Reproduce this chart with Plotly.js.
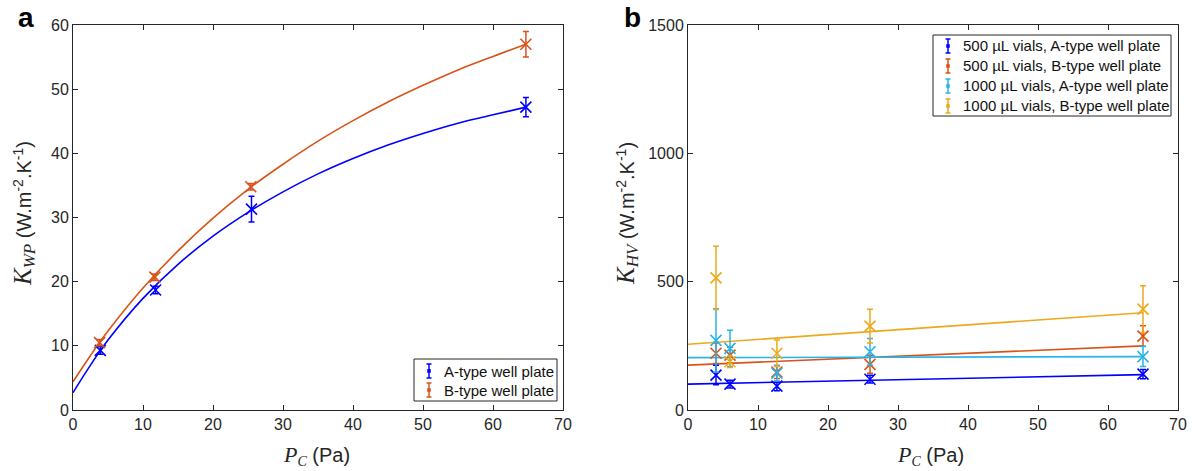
<!DOCTYPE html>
<html><head><meta charset="utf-8">
<script src="https://cdn.plot.ly/plotly-3.0.1.min.js"></script>
<style>html,body{margin:0;padding:0;background:#fff}</style>
</head><body>
<div id="chart" style="width:1196px;height:471px"></div>
<script>
// ---------- Panel a data ----------
const aPressureA = [3.9, 11.8, 25.5, 64.7];
const aKwpA = [9.3, 18.7, 31.3, 47.2];
const aErrA = [0.6, 0.6, 2.0, 1.5];
const aPressureB = [3.8, 11.7, 25.4, 64.7];
const aKwpB = [10.5, 20.7, 34.8, 57.0];
const aErrB = [0.5, 0.5, 0.5, 2.0];
const aFitP = [0, 2.5, 5, 10, 15, 20, 25, 30, 35, 40, 45, 50, 55, 60, 64.7];
const aFitA = [2.7, 7.0, 10.9, 17.4, 22.7, 27.1, 30.8, 34.0, 36.8, 39.2, 41.3, 43.1, 44.7, 46.0, 47.2];
const aFitB = [4.4, 8.5, 12.3, 19.0, 24.8, 29.9, 34.4, 38.3, 41.9, 45.1, 48.0, 50.6, 53.0, 55.1, 57.0];
const aLegendNames = ['A-type well plate', 'B-type well plate'];

// ---------- Panel b data ----------
const bPressure = [4, 6, 12.7, 26, 65];
const b500A = [136, 101, 93, 120, 140];
const b500AErr = [38, 15, 18, 15, 18];
const b500B = [221, 214, 148, 178, 288];
const b500BErr = [40, 30, 25, 35, 40];
const b1000A = [271, 240, 143, 227, 208];
const b1000AErr = [123, 71, 30, 52, 39];
const b1000B = [515, 188, 221, 327, 393];
const b1000BErr = [123, 22, 52, 66, 91];
const bLineP = [0, 65];
const bLine500A = [101, 138];
const bLine500B = [175, 250];
const bLine1000A = [204, 208];
const bLine1000B = [256, 379];
const bLegendNames = ['500 µL vials, A-type well plate', '500 µL vials, B-type well plate',
                      '1000 µL vials, A-type well plate', '1000 µL vials, B-type well plate'];

const cBlue = '#0000FF', cRed = '#D95319', cCyan = '#27B4E8', cYellow = '#EDA81C';
const axisCol = '#262626';
const W = 1196, H = 471;
const px = v => v / W, py = v => 1 - v / H;

function pts(x, y, e, col, xa, ya) {
  return {x: x, y: y, xaxis: xa, yaxis: ya, type: 'scatter', mode: 'markers', showlegend: false,
    marker: {symbol: 'x-thin', size: 11, color: col, line: {color: col, width: 1.6}},
    error_y: {type: 'data', array: e, visible: true, color: col, thickness: 1.5, width: 3},
    cliponaxis: false, hoverinfo: 'skip'};
}
function line(x, y, col, xa, ya, shape) {
  return {x: x, y: y, xaxis: xa, yaxis: ya, type: 'scatter', mode: 'lines', showlegend: false,
    line: {color: col, width: 1.6, shape: shape || 'linear', smoothing: 1}, hoverinfo: 'skip'};
}

const traces = [
  line(aFitP, aFitA, cBlue, 'x', 'y', 'spline'),
  line(aFitP, aFitB, cRed, 'x', 'y', 'spline'),
  pts(aPressureA, aKwpA, aErrA, cBlue, 'x', 'y'),
  pts(aPressureB, aKwpB, aErrB, cRed, 'x', 'y'),
  line(bLineP, bLine500A, cBlue, 'x2', 'y2'),
  line(bLineP, bLine500B, cRed, 'x2', 'y2'),
  line(bLineP, bLine1000A, cCyan, 'x2', 'y2'),
  line(bLineP, bLine1000B, cYellow, 'x2', 'y2'),
  pts(bPressure, b500A, b500AErr, cBlue, 'x2', 'y2'),
  pts(bPressure, b500B, b500BErr, cRed, 'x2', 'y2'),
  pts(bPressure, b1000A, b1000AErr, cCyan, 'x2', 'y2'),
  pts(bPressure, b1000B, b1000BErr, cYellow, 'x2', 'y2')
];

const tickFont = {family: 'Liberation Sans, Arial, sans-serif', size: 16, color: axisCol};
function xax(dom) {
  return {domain: dom, range: [0, 70], dtick: 10, ticks: 'inside', ticklen: 5, tickcolor: axisCol,
    showline: true, linecolor: axisCol, linewidth: 1, mirror: 'ticks', showgrid: false, zeroline: false,
    tickfont: tickFont, automargin: false, fixedrange: true};
}
function yax(range, dtick, anchor) {
  return {domain: [(H - 410) / H, (H - 25) / H], range: range, dtick: dtick, ticks: 'inside', ticklen: 5,
    tickcolor: axisCol, showline: true, linecolor: axisCol, linewidth: 1, mirror: 'ticks', showgrid: false,
    zeroline: false, tickfont: tickFont, automargin: false, anchor: anchor, fixedrange: true};
}
const serif = 'font-family:Liberation Serif,Times New Roman,serif;font-style:italic';
const titleFont = {family: 'Liberation Sans, Arial, sans-serif', size: 20, color: axisCol};
const xTitle = '<span style="' + serif + ';font-size:22px">P</span><sub><span style="' + serif + '">C</span></sub> (Pa)';
const yTitle = sub => '<span style="' + serif + ';font-size:25px">K</span><sub><span style="' + serif + ';font-size:17px">' + sub +
  '</span></sub> (W.m<sup>-2</sup>.K<sup>-1</sup>)';

const shapes = [], annotations = [];
// manual legends (positions in pixels)
function addLegend(names, cols, box, glyphX, textX, rowY) {
  shapes.push({type: 'rect', xref: 'paper', yref: 'paper', x0: px(box[0]), x1: px(box[1]), y0: py(box[2]), y1: py(box[3]),
    line: {color: axisCol, width: 1}, fillcolor: '#fff', layer: 'above'});
  names.forEach((n, i) => {
    const y = rowY[i], c = cols[i];
    const L = (x0, y0, x1, y1, w) => shapes.push({type: 'line', xref: 'paper', yref: 'paper',
      x0: px(x0), y0: py(y0), x1: px(x1), y1: py(y1), line: {color: c, width: w}, layer: 'above'});
    L(glyphX, y - 7, glyphX, y + 7, 1.5);
    L(glyphX - 2.5, y - 7, glyphX + 2.5, y - 7, 1.5);
    L(glyphX - 2.5, y + 7, glyphX + 2.5, y + 7, 1.5);
    shapes.push({type: 'rect', xref: 'paper', yref: 'paper', x0: px(glyphX - 1.8), x1: px(glyphX + 1.8),
      y0: py(y - 1.8), y1: py(y + 1.8), line: {width: 0}, fillcolor: c, layer: 'above'});
    annotations.push({text: n, xref: 'paper', yref: 'paper', x: px(textX), y: py(y), xanchor: 'left', yanchor: 'middle',
      showarrow: false, font: {family: 'Liberation Sans, Arial, sans-serif', size: 15, color: '#111'}});
  });
}
addLegend(aLegendNames, [cBlue, cRed], [414, 557, 359, 401], 429, 442, [371, 390]);
addLegend(bLegendNames, [cBlue, cRed, cCyan, cYellow], [933, 1171, 35, 116], 948, 961, [46, 66, 86, 106]);

annotations.push(
  {text: '<b>a</b>', xref: 'paper', yref: 'paper', x: px(26), y: py(18), xanchor: 'center', yanchor: 'middle', showarrow: false,
   font: {family: 'Liberation Sans, Arial, sans-serif', size: 28, color: '#000'}},
  {text: '<b>b</b>', xref: 'paper', yref: 'paper', x: px(632), y: py(18), xanchor: 'center', yanchor: 'middle', showarrow: false,
   font: {family: 'Liberation Sans, Arial, sans-serif', size: 28, color: '#000'}},
  {text: xTitle, xref: 'paper', yref: 'paper', x: px(316), y: py(455), xanchor: 'center', yanchor: 'middle', showarrow: false, font: titleFont},
  {text: xTitle, xref: 'paper', yref: 'paper', x: px(930), y: py(455), xanchor: 'center', yanchor: 'middle', showarrow: false, font: titleFont},
  {text: yTitle('WP'), xref: 'paper', yref: 'paper', x: px(24), y: py(214), xanchor: 'center', yanchor: 'middle',
   showarrow: false, textangle: -90, font: titleFont},
  {text: yTitle('HV'), xref: 'paper', yref: 'paper', x: px(627), y: py(214), xanchor: 'center', yanchor: 'middle',
   showarrow: false, textangle: -90, font: titleFont}
);

const layout = {
  width: W, height: H, margin: {l: 0, r: 0, t: 0, b: 0}, showlegend: false,
  paper_bgcolor: '#fff', plot_bgcolor: '#fff',
  xaxis: Object.assign(xax([73 / W, 563 / W]), {anchor: 'y'}),
  yaxis: yax([0, 60], 10, 'x'),
  xaxis2: Object.assign(xax([688 / W, 1178 / W]), {anchor: 'y2'}),
  yaxis2: yax([0, 1500], 500, 'x2'),
  shapes: shapes, annotations: annotations
};

Plotly.newPlot('chart', traces, layout, {displayModeBar: false, staticPlot: true});
</script>
</body></html>
